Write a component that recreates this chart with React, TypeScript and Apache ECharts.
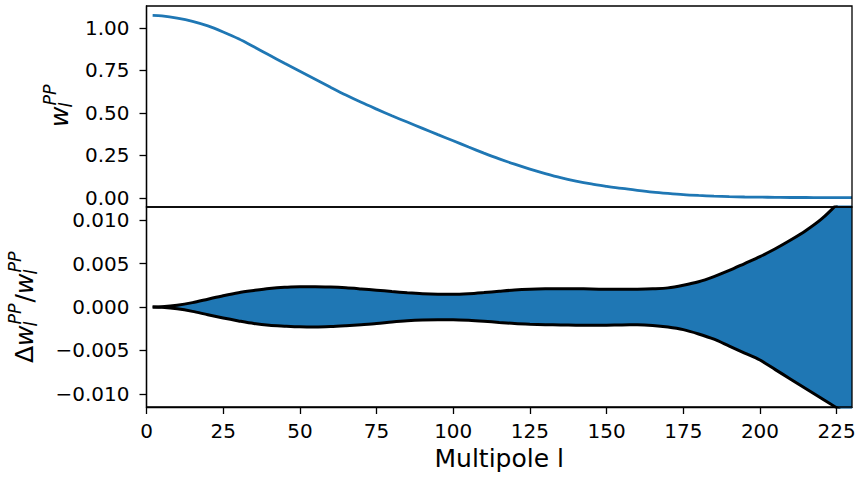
import React, { useEffect, useRef } from "react";
import * as echarts from "echarts";

// Multipole l sampled along the curves
const multipoles = [
  2, 5, 10, 15, 20, 25, 30, 35, 40, 45, 50, 55, 60, 65, 70, 75, 80, 85, 90, 95, 100,
  105, 110, 115, 120, 125, 130, 135, 140, 145, 150, 155, 160, 165, 170, 175, 180,
  185, 190, 195, 200, 205, 210, 215, 220, 225, 230,
];

// Top panel: w_l^PP
const wPP = [
  1.074, 1.071, 1.058, 1.039, 1.012, 0.976, 0.936, 0.889, 0.84, 0.792, 0.745, 0.698,
  0.651, 0.605, 0.562, 0.522, 0.483, 0.446, 0.409, 0.372, 0.336, 0.299, 0.263, 0.229,
  0.198, 0.169, 0.143, 0.119, 0.099, 0.082, 0.068, 0.055, 0.044, 0.034, 0.026, 0.019,
  0.014, 0.01, 0.007, 0.005, 0.004, 0.003, 0.002, 0.002, 0.001, 0.001, 0.001,
];

// Bottom panel: upper and lower edges of the relative uncertainty band
const bandUpper = [
  0, 0.00003, 0.0002, 0.0005, 0.0009, 0.0013, 0.00165, 0.0019, 0.00212, 0.00226,
  0.00232, 0.00234, 0.00229, 0.0022, 0.00207, 0.00193, 0.00178, 0.00164, 0.00153,
  0.00147, 0.00146, 0.00153, 0.00166, 0.00181, 0.00195, 0.00204, 0.00209, 0.00211,
  0.0021, 0.00207, 0.00204, 0.00203, 0.00205, 0.0021, 0.0022, 0.0025, 0.0029, 0.0035,
  0.0042, 0.005, 0.0058, 0.0067, 0.0077, 0.0088, 0.0101, 0.0118, 0.0138,
];
const bandLower = [
  0, -0.00003, -0.0002, -0.0005, -0.0009, -0.00127, -0.0016, -0.0019, -0.0021, -0.0022,
  -0.00228, -0.0023, -0.00225, -0.00215, -0.00203, -0.0019, -0.00173, -0.00159,
  -0.0015, -0.00146, -0.00146, -0.00152, -0.00163, -0.00177, -0.0019, -0.00198,
  -0.00203, -0.00207, -0.00209, -0.0021, -0.00209, -0.00206, -0.00205, -0.00212,
  -0.0023, -0.0026, -0.0031, -0.0037, -0.0045, -0.0053, -0.0061, -0.0072, -0.0083,
  -0.0094, -0.0105, -0.0116, -0.0128,
];

const xTicks = [0, 25, 50, 75, 100, 125, 150, 175, 200, 225];
const topTicks = [0, 0.25, 0.5, 0.75, 1.0];
const bottomTicks = [-0.01, -0.005, 0, 0.005, 0.01];

const BLUE = "#1f77b4";
const FONT = '"DejaVu Sans", sans-serif';
const FS = 25;
const SFS = 17.5;

function piece(text: string, x: number, baseline: number, size: number, italic: boolean) {
  return {
    type: "text",
    x,
    y: baseline - 0.35 * size,
    style: {
      text,
      font: `${italic ? "italic " : ""}${size}px ${FONT}`,
      fill: "#000",
      align: "left",
      verticalAlign: "middle",
      textAlign: "left",
      textVerticalAlign: "middle",
    },
  };
}

export default function App() {
  const ref = useRef<HTMLDivElement>(null);

  useEffect(() => {
    if (!ref.current) return;
    const chart = echarts.init(ref.current, undefined, { renderer: "svg" });
    const tickStyle = { color: "#000", width: 1.3 };
    const labelBase = { color: "#000", fontSize: 20, fontFamily: FONT };

    chart.setOption({
      animation: false,
      backgroundColor: "#fff",
      grid: [
        { left: 146.5, top: 6, width: 705.5, height: 201, show: true, borderColor: "#000", borderWidth: 1.3, z: 5 },
        { left: 146.5, top: 207, width: 705.5, height: 200, show: true, borderColor: "#000", borderWidth: 1.3, z: 5 },
      ],
      xAxis: [
        {
          type: "value", gridIndex: 0, min: 0, max: 230,
          axisLine: { show: false }, axisTick: { show: false }, axisLabel: { show: false },
          splitLine: { show: false },
        },
        {
          type: "value", gridIndex: 1, min: 0, max: 230,
          axisLine: { show: true, onZero: false, lineStyle: tickStyle },
          axisTick: { show: true, length: 7, lineStyle: tickStyle, customValues: xTicks },
          axisLabel: { ...labelBase, margin: 14, customValues: xTicks, formatter: (v: number) => String(v) },
          splitLine: { show: false },
          name: "Multipole l",
          nameLocation: "middle",
          nameGap: 39,
          nameTextStyle: { color: "#000", fontSize: FS, fontFamily: FONT },
        },
      ],
      yAxis: [
        {
          type: "value", gridIndex: 0, min: -0.054, max: 1.129,
          axisLine: { show: true, lineStyle: tickStyle },
          axisTick: { show: true, length: 7, lineStyle: tickStyle, customValues: topTicks },
          axisLabel: { ...labelBase, margin: 17, customValues: topTicks, formatter: (v: number) => v.toFixed(2) },
          splitLine: { show: false },
        },
        {
          type: "value", gridIndex: 1, min: -0.0115, max: 0.0115,
          axisLine: { show: true, onZero: false, lineStyle: tickStyle },
          axisTick: { show: true, length: 7, lineStyle: tickStyle, customValues: bottomTicks },
          axisLabel: {
            ...labelBase, margin: 17, customValues: bottomTicks,
            formatter: (v: number) => (Math.abs(v) < 1e-9 ? "0.000" : v.toFixed(3).replace("-", "\u2212")),
          },
          splitLine: { show: false },
        },
      ],
      series: [
        {
          type: "line", xAxisIndex: 0, yAxisIndex: 0,
          data: multipoles.map((l, i) => [l, wPP[i]]),
          showSymbol: false, smooth: 0.3,
          lineStyle: { color: BLUE, width: 2.8 },
          itemStyle: { color: BLUE },
        },
        {
          type: "line", xAxisIndex: 1, yAxisIndex: 1,
          data: multipoles.map((l, i) => [l, bandUpper[i]]),
          showSymbol: false, smooth: 0.3,
          lineStyle: { color: "#000", width: 3 },
          areaStyle: { color: BLUE, opacity: 1, origin: 0 },
          itemStyle: { color: "#000" },
        },
        {
          type: "line", xAxisIndex: 1, yAxisIndex: 1,
          data: multipoles.map((l, i) => [l, bandLower[i]]),
          showSymbol: false, smooth: 0.3,
          lineStyle: { color: "#000", width: 3 },
          areaStyle: { color: BLUE, opacity: 1, origin: 0 },
          itemStyle: { color: "#000" },
        },
      ],
      graphic: [
        {
          type: "group", x: 68, y: 127, rotation: Math.PI / 2,
          children: [
            piece("w", 0, 0, FS, true),
            piece("l", 19.5, 4, SFS, true),
            piece("PP", 21.5, -12, SFS, true),
          ],
        },
        {
          type: "group", x: 33, y: 363, rotation: Math.PI / 2,
          children: [
            piece("\u0394", 0, 0, FS, false),
            piece("w", 17.1, 0, FS, true),
            piece("l", 36.5, 4, SFS, true),
            piece("PP", 38.5, -12, SFS, true),
            piece("/", 60.5, 0, FS, false),
            piece("w", 69, 0, FS, true),
            piece("l", 88.4, 4, SFS, true),
            piece("PP", 90.4, -12, SFS, true),
          ],
        },
      ],
    });
    return () => chart.dispose();
  }, []);

  return (
    <div
      ref={ref}
      style={{ position: "absolute", left: 0, top: 0, width: 861, height: 482 }}
    />
  );
}
